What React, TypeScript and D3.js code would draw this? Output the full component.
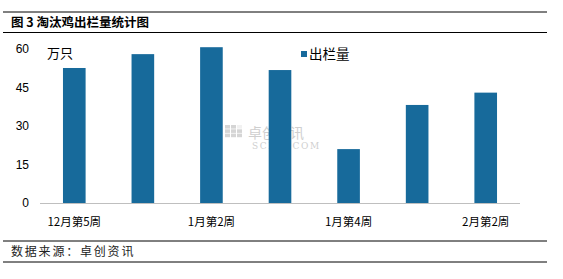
import React from "react";
import * as d3 from "d3";

const categories = ["12月第5周", "1月第1周", "1月第2周", "1月第3周", "1月第4周", "2月第1周", "2月第2周"];
const values = [52.6, 58.0, 60.7, 51.8, 21.0, 38.2, 43.0];
const yTicks = [0, 15, 30, 45, 60];
const shownLabels = ["12月第5周", "1月第2周", "1月第4周", "2月第2周"];
const seriesName = "出栏量";
const unitLabel = "万只";
const title = "图 3  淘汰鸡出栏量统计图";
const source = "数据来源：卓创资讯";

const W = 563;
const H = 279;
const FONT = "'Noto Sans CJK SC', 'DejaVu Sans', sans-serif";
const BAR = "#176a9b";

export default function App() {
  const x = d3.scaleBand<string>().domain(categories).range([40, 520]).paddingInner(0).paddingOuter(0);
  const y = d3.scaleLinear().domain([0, 60]).range([203, 49]);
  const bw = x.step() * 0.33;

  return (
    <svg width={W} height={H} style={{ position: "absolute", left: 0, top: 0, background: "#fff" }} fontFamily={FONT}>
      <rect x={0} y={0} width={W} height={H} fill="#fff" />
      <line x1={3} x2={547} y1={12} y2={12} stroke="#000" strokeWidth={1} />
      <text x={11} y={27} fontSize={12.5} fontWeight="bold" fill="#000">{title}</text>
      <line x1={3} x2={547} y1={32.5} y2={32.5} stroke="#000" strokeWidth={1} />

      {/* watermark */}
      <g opacity={0.4}>
        {[0, 1, 2].map((r) =>
          [0, 1, 2].map((c) => (
            <rect key={`${r}-${c}`} x={225 + c * 6} y={125 + r * 4.3} width={5} height={3.6} fill={r === 0 && c === 2 ? "#ddd" : "#999"} />
          ))
        )}
        <text x={248} y={137.5} fontSize={14} fill="#888" fontFamily="'Noto Sans CJK SC', serif">卓创资讯</text>
        <text x={252} y={148.5} fontSize={9} letterSpacing={1.6} fill="#888" fontFamily="'DejaVu Serif', serif">SCI99.COM</text>
      </g>

      {categories.map((c, i) => (
        <rect key={c} x={(x(c) as number) + x.step() / 2 - bw / 2} y={y(values[i])} width={bw} height={y(0) - y(values[i])} fill={BAR} />
      ))}

      <line x1={40} x2={520} y1={203.5} y2={203.5} stroke="#bfbfbf" strokeWidth={1} />

      {yTicks.map((t) => (
        <text key={t} x={29} y={y(t)} dy="0.35em" textAnchor="end" fontSize={12} fontFamily="'Liberation Sans', Arial, sans-serif" fill="#000">{t}</text>
      ))}
      <text x={47} y={53} dy="0.35em" fontSize={13} fill="#000">{unitLabel}</text>

      {categories.map((c) =>
        shownLabels.includes(c) ? (
          <text key={c} x={(x(c) as number) + x.step() / 2} y={222} dy="0.35em" textAnchor="middle" fontSize={11.5} fill="#000">{c}</text>
        ) : null
      )}

      <rect x={301} y={51} width={6} height={6} fill={BAR} />
      <text x={309} y={54} dy="0.35em" fontSize={13.5} fill="#000">{seriesName}</text>

      <line x1={3} x2={547} y1={241} y2={241} stroke="#000" strokeWidth={1} />
      <text x={11} y={252} dy="0.35em" fontSize={12} letterSpacing={1.8} fill="#222">{source}</text>
      <line x1={3} x2={547} y1={262} y2={262} stroke="#000" strokeWidth={1} />
    </svg>
  );
}
